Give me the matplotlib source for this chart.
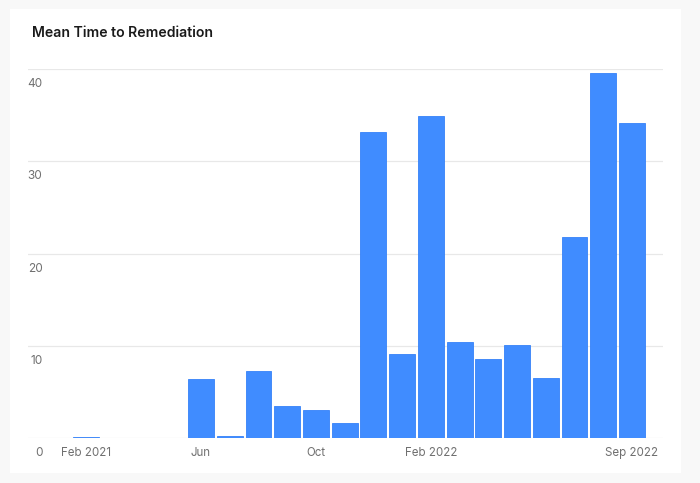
import matplotlib
matplotlib.use("Agg")
import matplotlib.pyplot as plt
import matplotlib.patches as mpatches
import matplotlib.transforms as mtransforms
import numpy as np

# monthly mean time to remediation, Feb 2021 .. Sep 2022
months = ["Feb 2021", "Mar", "Apr", "May", "Jun", "Jul", "Aug", "Sep", "Oct", "Nov", "Dec",
          "Jan 2022", "Feb 2022", "Mar", "Apr", "May", "Jun", "Jul", "Aug", "Sep 2022"]
values = [0.1, 0, 0, 0, 6.4, 0.2, 7.25, 3.45, 3.0, 1.6, 33.2,
          9.1, 34.9, 10.4, 8.6, 10.05, 6.5, 21.8, 39.6, 34.2]
tick_idx = [0, 4, 8, 12, 19]
tick_labels = ["Feb 2021", "Jun", "Oct", "Feb 2022", "Sep 2022"]
y_ticks = [0, 10, 20, 30, 40]

W, H = 700, 483
fig = plt.figure(figsize=(W / 100, H / 100), dpi=100)
fig.patch.set_facecolor("#f8f8f8")

# white card behind everything
card = mpatches.Rectangle((10 / W, 1 - 472.7 / H), (680.7 - 10) / W, (472.7 - 9) / H,
                          transform=fig.transFigure, facecolor="white", edgecolor="none", zorder=-5)
fig.patches.append(card)

fig.text(32 / W, 1 - 33 / H, "Mean Time to Remediation", fontsize=10.1, fontweight="semibold",
         family=["Inter", "DejaVu Sans"], color="#1a1a1a", va="center", ha="left")

ax = fig.add_axes([28 / W, (H - 438) / H, (663 - 28) / W, (438 - 69) / H])
ax.set_facecolor("none")
ax.set_zorder(2)

x = np.arange(len(values))
ax.bar(x, values, width=0.9, color="#408cff", edgecolor="#3582f8", linewidth=0.6, zorder=3)

ax.set_xlim(-2.02, 20.08)
ax.set_ylim(0, 40)

for s in ax.spines.values():
    s.set_visible(False)

for v in y_ticks:
    ax.axhline(v, color="#e8e8e8", linewidth=0.9, zorder=1)

trans = mtransforms.blended_transform_factory(ax.transAxes, ax.transData)
for v in y_ticks:
    ax.annotate(str(v), xy=((42.5 - 28) / 635, v), xycoords=trans, xytext=(0, -10.8),
                textcoords="offset points", ha="right", va="center", fontsize=8.5,
                family=["Inter", "DejaVu Sans"], color="#707070")

ax.set_yticks([])
ax.set_xticks(tick_idx)
ax.set_xticklabels(tick_labels, fontsize=8.3, family=["Inter", "DejaVu Sans"], color="#707070")
ax.tick_params(axis="x", length=0, pad=6.3)

fig.savefig("out.png", dpi=100, facecolor=fig.get_facecolor())
